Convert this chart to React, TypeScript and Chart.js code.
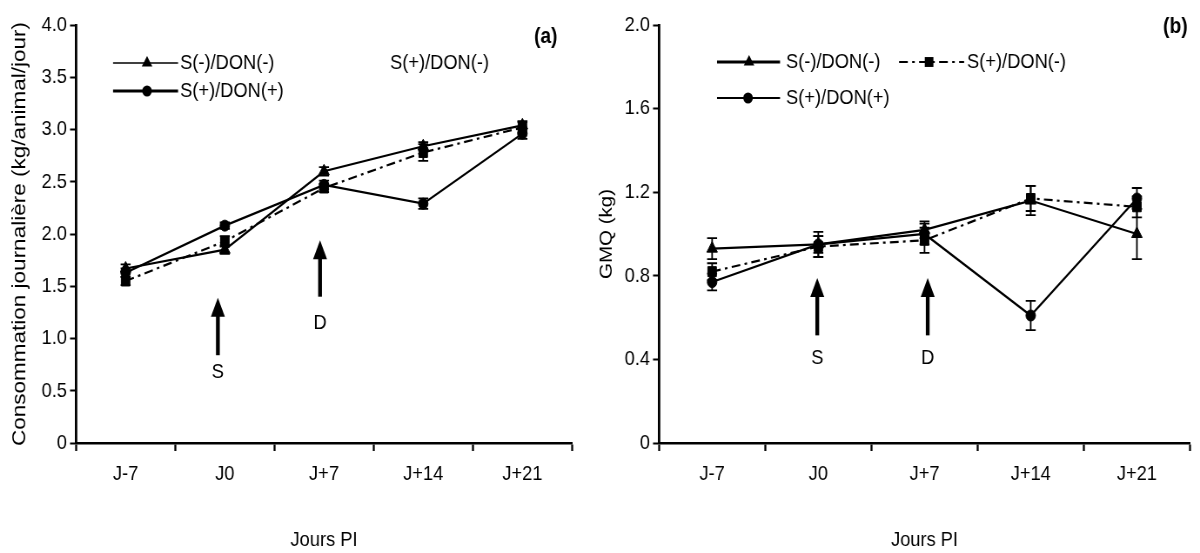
import React, { useEffect, useRef } from 'react';
import { Chart, registerables } from 'chart.js';

Chart.register(...registerables);

// ---------- data ----------
const days = ['J-7', 'J0', 'J+7', 'J+14', 'J+21'];
const seriesLabels = ['S(-)/DON(-)', 'S(+)/DON(-)', 'S(+)/DON(+)'];

// (a) Consommation journalière (kg/animal/jour)
const consoSnegDneg = [1.67, 1.85, 2.6, 2.84, 3.04];
const consoSposDneg = [1.55, 1.93, 2.44, 2.78, 3.02];
const consoSposDpos = [1.63, 2.08, 2.47, 2.29, 2.96];
const consoErrSnegDneg = [0.04, 0.04, 0.04, 0.04, 0.04];
const consoErrSposDneg = [0.04, 0.05, 0.04, 0.08, 0.05];
const consoErrSposDpos = [0.04, 0.03, 0.04, 0.05, 0.05];
const consoTicks = [0, 0.5, 1, 1.5, 2, 2.5, 3, 3.5, 4];

// (b) GMQ (kg)
const gmqSnegDneg = [0.93, 0.95, 1.02, 1.16, 1.0];
const gmqSposDneg = [0.82, 0.94, 0.97, 1.17, 1.13];
const gmqSposDpos = [0.77, 0.95, 1.0, 0.61, 1.17];
const gmqErrSnegDneg = [0.05, 0.04, 0.04, 0.07, 0.12];
const gmqErrSposDneg = [0.04, 0.05, 0.06, 0.06, 0.05];
const gmqErrSposDpos = [0.04, 0.06, 0.05, 0.07, 0.05];
const gmqTicks = [0, 0.4, 0.8, 1.2, 1.6, 2.0];

const ARIAL = 'Arial, "Liberation Sans", sans-serif';
// the original figure is horizontally compressed: render wider, display narrower
const SX = 0.87;
const X = (px: number) => px / SX;

// ---------- plugins ----------
function drawMarker(ctx: CanvasRenderingContext2D, style: string, x: number, y: number, r: number) {
  ctx.beginPath();
  if (style === 'triangle') {
    ctx.moveTo(x, y - r);
    ctx.lineTo(x + r * 0.866, y + r * 0.5);
    ctx.lineTo(x - r * 0.866, y + r * 0.5);
    ctx.closePath();
  } else if (style === 'rect') {
    const s = r * Math.SQRT1_2;
    ctx.rect(x - s, y - s, 2 * s, 2 * s);
  } else {
    ctx.arc(x, y, r, 0, Math.PI * 2);
  }
  ctx.fill();
}

const errorBarPlugin = {
  id: 'errorBars',
  afterDatasetsDraw(chart: any) {
    const { ctx } = chart;
    const yScale = chart.scales.y;
    const cap = X(5);
    chart.data.datasets.forEach((ds: any, di: number) => {
      const meta = chart.getDatasetMeta(di);
      meta.data.forEach((pt: any, i: number) => {
        const v = ds.data[i];
        const e = ds.errors ? ds.errors[i] : 0;
        if (!e) return;
        const top = yScale.getPixelForValue(v + e);
        const bot = yScale.getPixelForValue(v - e);
        ctx.save();
        ctx.strokeStyle = '#000';
        ctx.lineWidth = 1.8;
        ctx.beginPath();
        ctx.moveTo(pt.x, top);
        ctx.lineTo(pt.x, bot);
        ctx.moveTo(pt.x - cap, top);
        ctx.lineTo(pt.x + cap, top);
        ctx.moveTo(pt.x - cap, bot);
        ctx.lineTo(pt.x + cap, bot);
        ctx.stroke();
        ctx.restore();
      });
    });
  },
};

const arrowPlugin = {
  id: 'arrows',
  afterDraw(chart: any, _args: any, opts: any) {
    const { ctx } = chart;
    const xs = chart.scales.x;
    const ys = chart.scales.y;
    (opts.items || []).forEach((a: any) => {
      const x = xs.getPixelForValue(a.at);
      const yTip = ys.getPixelForValue(a.to);
      const yBot = ys.getPixelForValue(a.from);
      const yLab = ys.getPixelForValue(a.labelAt);
      ctx.save();
      ctx.strokeStyle = '#000';
      ctx.fillStyle = '#000';
      ctx.lineWidth = X(3.8);
      ctx.beginPath();
      ctx.moveTo(x, yBot);
      ctx.lineTo(x, yTip + 14);
      ctx.stroke();
      ctx.beginPath();
      ctx.moveTo(x, yTip);
      ctx.lineTo(x + X(7), yTip + 19);
      ctx.lineTo(x - X(7), yTip + 19);
      ctx.closePath();
      ctx.fill();
      ctx.font = `21px ${ARIAL}`;
      ctx.textAlign = 'center';
      ctx.textBaseline = 'middle';
      ctx.fillText(a.text, x, yLab);
      ctx.restore();
    });
  },
};

const legendPlugin = {
  id: 'customLegend',
  afterDraw(chart: any, _args: any, opts: any) {
    const { ctx } = chart;
    (opts.items || []).forEach((it: any) => {
      const ds = chart.data.datasets[it.dataset];
      ctx.save();
      ctx.strokeStyle = '#000';
      ctx.fillStyle = '#000';
      if (it.sample) {
        ctx.lineWidth = it.lineWidth || 2;
        ctx.setLineDash(ds.borderDash || []);
        ctx.beginPath();
        ctx.moveTo(X(it.sample[0]), it.y);
        ctx.lineTo(X(it.sample[1]), it.y);
        ctx.stroke();
        ctx.setLineDash([]);
        drawMarker(ctx, ds.pointStyle, X(it.marker), it.y, ds.pointRadius);
      }
      ctx.font = `21px ${ARIAL}`;
      ctx.textAlign = 'left';
      ctx.textBaseline = 'middle';
      ctx.fillText(ds.label, X(it.textX), it.y);
      ctx.restore();
    });
    if (opts.panel) {
      ctx.save();
      ctx.fillStyle = '#000';
      ctx.font = `bold 22px ${ARIAL}`;
      ctx.textAlign = 'left';
      ctx.textBaseline = 'middle';
      ctx.fillText(opts.panel.text, X(opts.panel.x), opts.panel.y);
      ctx.restore();
    }
  },
};

// ---------- chart builder ----------
function makeDatasets(a: number[], b: number[], c: number[], ea: number[], eb: number[], ec: number[]) {
  const common = {
    borderColor: '#000',
    backgroundColor: '#000',
    pointBackgroundColor: '#000',
    pointBorderColor: '#000',
    pointBorderWidth: 1,
    borderWidth: 2.2,
    tension: 0,
    clip: false as any,
  };
  return [
    { ...common, label: seriesLabels[0], data: a, errors: ea, pointStyle: 'triangle', pointRadius: 7 },
    { ...common, label: seriesLabels[1], data: b, errors: eb, pointStyle: 'rect', pointRadius: 7, borderDash: [10, 5, 3, 5] },
    { ...common, label: seriesLabels[2], data: c, errors: ec, pointStyle: 'circle', pointRadius: 5.5 },
  ];
}

function buildConfig(p: any) {
  return {
    type: 'line',
    data: { labels: days, datasets: p.datasets },
    plugins: [errorBarPlugin, arrowPlugin, legendPlugin],
    options: {
      animation: false,
      responsive: false,
      maintainAspectRatio: false,
      events: [],
      layout: { padding: { left: 0, top: 25, right: X(p.padRight), bottom: 0 } },
      plugins: {
        legend: { display: false },
        tooltip: { enabled: false },
        arrows: { items: p.arrows },
        customLegend: { items: p.legend, panel: p.panel },
      },
      scales: {
        x: {
          type: 'category',
          offset: true,
          afterFit: (s: any) => { s.height = 110; },
          grid: {
            offset: true,
            drawOnChartArea: false,
            drawTicks: true,
            tickLength: 8,
            tickColor: '#000',
            tickWidth: 2.3,
          },
          border: { display: true, color: '#000', width: 2.5 },
          ticks: { color: '#000', padding: 11, font: { family: ARIAL, size: 21 }, maxRotation: 0 },
          title: {
            display: true,
            text: 'Jours PI',
            color: '#000',
            font: { family: ARIAL, size: 21 },
            padding: { top: 0, bottom: 0 },
          },
        },
        y: {
          type: 'linear',
          min: p.ticks[0],
          max: p.ticks[p.ticks.length - 1],
          afterFit: (s: any) => { s.width = X(p.yWidth); },
          afterBuildTicks: (s: any) => { s.ticks = p.ticks.map((v: number) => ({ value: v })); },
          grid: {
            drawOnChartArea: false,
            drawTicks: true,
            tickLength: X(6),
            tickColor: '#000',
            tickWidth: 2,
          },
          border: { display: true, color: '#000', width: 2.8 },
          ticks: {
            color: '#000',
            padding: X(3),
            font: { family: ARIAL, size: 21 },
            callback: (v: number) => (v === 0 ? '0' : Number(v).toFixed(1)),
          },
          title: {
            display: true,
            text: p.yTitle,
            color: '#000',
            font: { family: ARIAL, size: p.yTitleSize },
            padding: { top: p.yTitlePad, bottom: 0 },
          },
        },
      },
    },
  };
}

function ChartPanel({ config, left, width }: { config: any; left: number; width: number }) {
  const ref = useRef<HTMLCanvasElement | null>(null);
  useEffect(() => {
    if (!ref.current) return;
    const chart = new Chart(ref.current, config);
    return () => chart.destroy();
  }, [config]);
  return (
    <canvas
      ref={ref}
      width={Math.round(X(width))}
      height={553}
      style={{ position: 'absolute', left, top: 0, width: `${width}px`, height: '553px' }}
    />
  );
}

const configA = buildConfig({
  datasets: makeDatasets(consoSnegDneg, consoSposDneg, consoSposDpos, consoErrSnegDneg, consoErrSposDneg, consoErrSposDpos),
  ticks: consoTicks,
  yTitle: 'Consommation journalière (kg/animal/jour)',
  yTitleSize: 22.5,
  yTitlePad: 9,
  yWidth: 76,
  padRight: 18,
  arrows: [
    { text: 'S', at: 0.93, from: 0.84, to: 1.39, labelAt: 0.68 },
    { text: 'D', at: 1.96, from: 1.4, to: 1.94, labelAt: 1.15 },
  ],
  legend: [
    { dataset: 0, y: 63, sample: [113, 178], marker: 147, textX: 180, lineWidth: 1.6 },
    { dataset: 2, y: 91, sample: [113, 178], marker: 147, textX: 180, lineWidth: 3 },
    { dataset: 1, y: 63, sample: null, textX: 390 },
  ],
  panel: { text: '(a)', x: 534, y: 37 },
});

const configB = buildConfig({
  datasets: makeDatasets(gmqSnegDneg, gmqSposDneg, gmqSposDpos, gmqErrSnegDneg, gmqErrSposDneg, gmqErrSposDpos),
  ticks: gmqTicks,
  yTitle: 'GMQ (kg)',
  yTitleSize: 20.5,
  yTitlePad: 7,
  yWidth: 69,
  padRight: 10,
  arrows: [
    { text: 'S', at: 0.99, from: 0.515, to: 0.79, labelAt: 0.405 },
    { text: 'D', at: 2.03, from: 0.515, to: 0.79, labelAt: 0.405 },
  ],
  legend: [
    { dataset: 0, y: 62, sample: [127, 190], marker: 159, textX: 196, lineWidth: 2.8 },
    { dataset: 1, y: 62, sample: [309, 374], marker: 339, textX: 377, lineWidth: 2 },
    { dataset: 2, y: 98, sample: [127, 190], marker: 158, textX: 196, lineWidth: 2 },
  ],
  panel: { text: '(b)', x: 573, y: 27 },
});

export default function App() {
  return (
    <div style={{ position: 'fixed', left: 0, top: 0, width: 1200, height: 553, background: '#fff', overflow: 'hidden' }}>
      <ChartPanel config={configA} left={0} width={590} />
      <ChartPanel config={configB} left={590} width={610} />
    </div>
  );
}
